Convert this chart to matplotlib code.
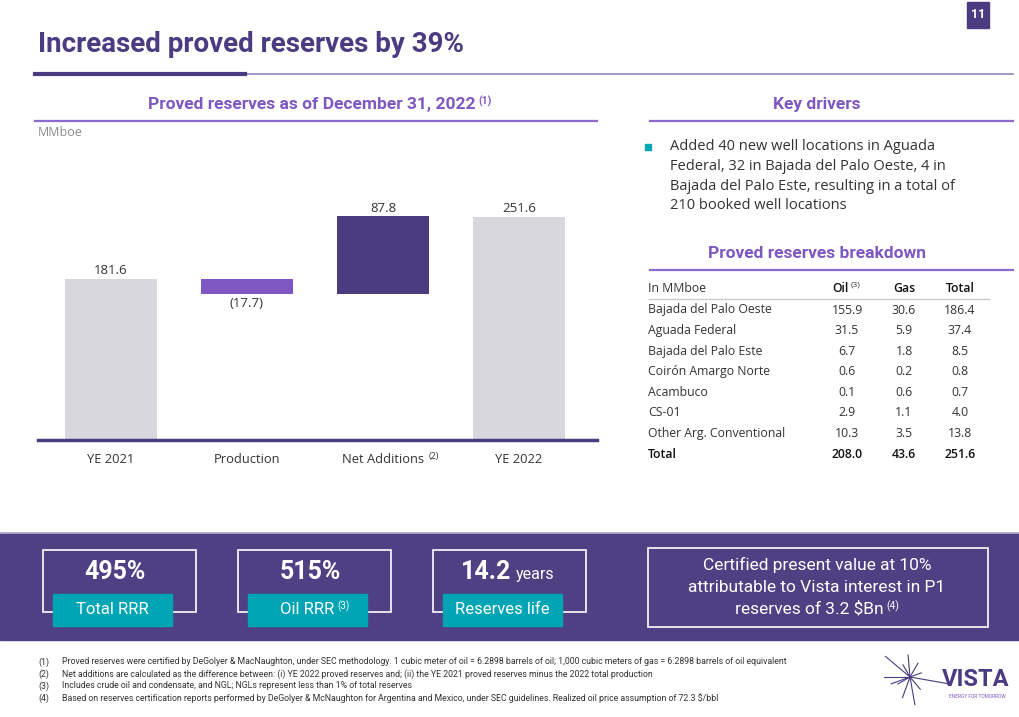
import numpy as np
import matplotlib
matplotlib.use("Agg")
import matplotlib.pyplot as plt
from matplotlib import font_manager as fm
from matplotlib.patches import Rectangle
from matplotlib.lines import Line2D

# page size in pixels
W, H = 1020, 717

# waterfall data (MMboe)
categories = ["YE 2021", "Production", "Net Additions", "YE 2022"]
values = [181.6, -17.7, 87.8, 251.6]
value_labels = ["181.6", "(17.7)", "87.8", "251.6"]

# breakdown table
fields = ["Bajada del Palo Oeste", "Aguada Federal", "Bajada del Palo Este",
          "Coirón Amargo Norte", "Acambuco", "CS-01", "Other Arg. Conventional"]
oil = [155.9, 31.5, 6.7, 0.6, 0.1, 2.9, 10.3]
gas = [30.6, 5.9, 1.8, 0.2, 0.6, 1.1, 3.5]
total = [186.4, 37.4, 8.5, 0.8, 0.7, 4.0, 13.8]
totals = [208.0, 43.6, 251.6]

# KPI boxes
kpi_values = ["495%", "515%", "14.2"]
kpi_labels = ["Total RRR", "Oil RRR", "Reserves life"]

footnotes = [
    "Proved reserves were certified by DeGolyer & MacNaughton, under SEC methodology. 1 cubic meter of oil = 6.2898 barrels of oil; 1,000 cubic meters of gas = 6.2898 barrels of oil equivalent",
    "Net additions are calculated as the difference between: (i) YE 2022 proved reserves and; (ii) the YE 2021 proved reserves minus the 2022 total production",
    "Includes crude oil and condensate, and NGL; NGLs represent less than 1% of total reserves",
    "Based on reserves certification reports performed by DeGolyer & McNaughton for Argentina and Mexico, under SEC guidelines. Realized oil price assumption of 72.3 $/bbl",
]

# colours
DARK = "#4B3C82"
MID = "#7E57C2"
GREY_BAR = "#D8D7DD"
BAND = "#4F4084"
TEAL = "#00A5B5"
TXT = "#333333"

installed = {f.name for f in fm.fontManager.ttflist}
def pick(*names):
    return [n for n in names if n in installed] + ["DejaVu Sans"]
COND = pick("Liberation Sans Narrow", "Roboto")
BODY = pick("Open Sans", "Noto Sans")

fig = plt.figure(figsize=(W / 100, H / 100), dpi=100)
renderer = fig.canvas.get_renderer()

def fx(x):
    return x / W

def fy(y):
    return 1 - y / H

def text(x, y, s, **kw):
    kw.setdefault("va", "center")
    return fig.text(fx(x), fy(y), s, **kw)

def sup_after(artist, s, gap=2, **kw):
    # small superscript right after another text
    bb = artist.get_window_extent(renderer)
    return fig.text(fx(bb.x1 + gap), fy(H - bb.y1 - 1), s, va="top", **kw)

def hline(x0, x1, y, color, lw):
    fig.add_artist(Line2D([fx(x0), fx(x1)], [fy(y), fy(y)], color=color, lw=lw))

def rect(x0, y0, x1, y1, **kw):
    fig.add_artist(Rectangle((fx(x0), fy(y1)), (x1 - x0) / W, (y1 - y0) / H, **kw))

# page number
rect(967, 2, 989, 28, color=DARK)
text(978, 15, "11", color="white", fontsize=9, ha="center", family=COND, weight="bold")

# title
text(38, 45, "Increased proved reserves by 39%", color=DARK, fontsize=20,
     weight="bold", family=COND)
hline(245, 1013, 74, "#9A91C2", 1.3)
hline(35, 245, 74, DARK, 3)

# section headings
h1 = text(312, 104, "Proved reserves as of December 31, 2022", color=MID, fontsize=12.5,
          weight="bold", family=COND, ha="center")
sup_after(h1, "(1)", gap=3, color=MID, fontsize=7.5, weight="bold", family=COND)
hline(35, 597, 121, "#8C6BD0", 1.6)
text(817, 104, "Key drivers", color=MID, fontsize=12.5, weight="bold", family=COND, ha="center")
hline(650, 1013, 121, "#8C6BD0", 1.6)
text(38, 133, "MMboe", color="#8A8A8A", fontsize=9, family=BODY)

# waterfall chart
px_per_unit = 0.888
ax = fig.add_axes([fx(38), fy(440), 559 / W, 240 / H])
ax.set_xlim(-0.537, 3.574)
ax.set_ylim(0, 240 / px_per_unit)
colors = [GREY_BAR, MID, DARK, GREY_BAR]
running = 0.0
for i, v in enumerate(values):
    if i == 0 or i == len(values) - 1:
        bottom, height = 0, v
        running = v
    elif v < 0:
        bottom, height = running + v, -v
        running += v
    else:
        bottom, height = running, v
        running += v
    ax.bar(i, height, bottom=bottom, width=0.67, color=colors[i], zorder=2)
    if v < 0:
        ax.annotate(value_labels[i], (i, bottom), xytext=(0, -1.5), textcoords="offset points",
                    ha="center", va="top", fontsize=9.5, color=TXT, family=BODY)
    else:
        ax.annotate(value_labels[i], (i, bottom + height), xytext=(0, 1), textcoords="offset points",
                    ha="center", va="bottom", fontsize=9.5, color=TXT, family=BODY)
for s in ["top", "right", "left"]:
    ax.spines[s].set_visible(False)
ax.spines["bottom"].set_color(DARK)
ax.spines["bottom"].set_linewidth(2.5)
ax.spines["bottom"].set_zorder(3)
ax.set_yticks([])
ax.set_xticks(range(len(categories)))
ax.set_xticklabels(categories, fontsize=9.3, color=TXT, family=BODY)
ax.tick_params(axis="x", length=0, pad=9)
ax.patch.set_alpha(0)
fig.canvas.draw()
sup_after(ax.get_xticklabels()[2], "(2)", gap=5, color=TXT, fontsize=6.5, family=BODY)

# key drivers bullet
rect(645, 144, 651, 150, color=TEAL)
bullet = ["Added 40 new well locations in Aguada",
          "Federal, 32 in Bajada del Palo Oeste, 4 in",
          "Bajada del Palo Este, resulting in a total of",
          "210 booked well locations"]
for k, line in enumerate(bullet):
    text(670, 147 + k * 19.5, line, color=TXT, fontsize=10.5, family=BODY)

# breakdown table
text(817, 253, "Proved reserves breakdown", color=MID, fontsize=12.5, weight="bold",
     family=COND, ha="center")
hline(650, 1013, 270, "#8C6BD0", 1.6)
col_x = [847, 904, 960]
TS = 8.8
text(648, 289, "In MMboe", color=TXT, fontsize=TS, family=BODY)
oil_h = text(840, 289, "Oil", color="#111111", fontsize=TS, family=BODY, ha="center",
             weight="semibold")
sup_after(oil_h, "(3)", gap=2, color=TXT, fontsize=6, family=BODY)
text(col_x[1], 289, "Gas", color="#111111", fontsize=TS, family=BODY, ha="center", weight="semibold")
text(col_x[2], 289, "Total", color="#111111", fontsize=TS, family=BODY, ha="center", weight="semibold")
hline(649, 989, 299, "#CCCCCC", 1)
for r, name in enumerate(fields):
    y = 310 + r * 20.6
    text(648, y, name, color=TXT, fontsize=TS, family=BODY)
    for c, col in enumerate([oil, gas, total]):
        text(col_x[c], y, f"{col[r]:.1f}", color=TXT, fontsize=TS, family=BODY, ha="center")
y = 310 + len(fields) * 20.6
text(648, y, "Total", color="#111111", fontsize=TS, family=BODY, weight="semibold")
for c, v in enumerate(totals):
    text(col_x[c], y, f"{v:.1f}", color="#111111", fontsize=TS, family=BODY,
         ha="center", weight="semibold")

# bottom band
rect(0, 533, W, 640, color=BAND)
hline(0, W, 533, "#B3ABD3", 1.2)
box_x = [43, 238, 433]
for k in range(3):
    x0 = box_x[k]
    rect(x0, 550, x0 + 153, 612, fill=False, edgecolor="white", lw=1.2)
    rect(x0 + 10, 594, x0 + 129, 626, color=TEAL)
    cx = x0 + 70
    if k == 2:
        v = text(cx - 17, 572, kpi_values[k], color="white", fontsize=18, weight="bold",
                 family=COND, ha="center")
        bb = v.get_window_extent(renderer)
        text(bb.x1 + 5, 575, "years", color="white", fontsize=11.5, family=COND)
    else:
        text(cx + 2, 572, kpi_values[k], color="white", fontsize=18, weight="bold",
             family=COND, ha="center")
    lab = text(x0 + 69, 609, kpi_labels[k], color="white", fontsize=12, family=COND, ha="center")
    if k == 1:
        sup_after(lab, "(3)", gap=3, color="white", fontsize=7, family=COND)

rect(648, 548, 988, 627, fill=False, edgecolor="white", lw=1.2)
cert = ["Certified present value at 10%",
        "attributable to Vista interest in P1",
        "reserves of 3.2 $Bn"]
for k, line in enumerate(cert):
    t = text(817 - (8 if k == 2 else 0), 565 + k * 22, line, color="white", fontsize=12.5,
             family=COND, ha="center")
sup_after(t, "(4)", gap=3, color="white", fontsize=7.5, family=COND)

# footnotes
for k, note in enumerate(footnotes):
    y = 662 + k * 12
    text(38, y, f"({k + 1})", color=TXT, fontsize=6.3, family=COND)
    text(62, y, note, color=TXT, fontsize=6.3, family=COND)

# logo
cx, cy = 910, 677
for ang, ln in [(140, 32), (180, 26), (200, 20), (95, 22), (60, 16), (20, 12),
                (-10, 40), (-50, 16), (-80, 28), (-110, 22), (-150, 14), (120, 14)]:
    a = np.deg2rad(ang)
    fig.add_artist(Line2D([fx(cx), fx(cx + ln * np.cos(a))],
                          [fy(cy), fy(cy - ln * np.sin(a))], color=DARK, lw=0.8))
text(976, 680, "VISTA", color=DARK, fontsize=17, weight="bold", family=COND, ha="center")
text(977, 696, "ENERGY FOR TOMORROW", color=MID, fontsize=3.5, family=COND, ha="center")

fig.savefig("out.png", dpi=100)
